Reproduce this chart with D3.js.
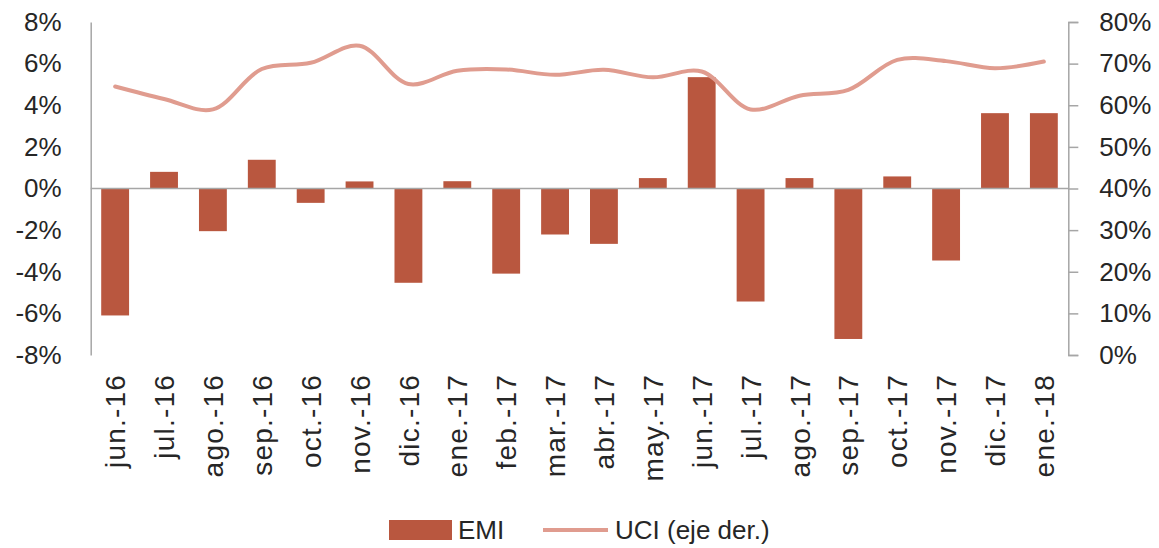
<!DOCTYPE html>
<html>
  <head>
    <meta charset="utf-8">
    <title></title>
  </head>
  <style>
    body{
      margin: 0;
      font-family: "Liberation Sans", Arial, sans-serif;
      background: #fff;
    }
    svg text {
      fill: #262626;
    }
  </style>
  <script src="https://cdn.jsdelivr.net/npm/d3@7"></script>
  <body>
    <script>
    // categorias (meses)
    var months = ["jun.-16","jul.-16","ago.-16","sep.-16","oct.-16","nov.-16","dic.-16",
                  "ene.-17","feb.-17","mar.-17","abr.-17","may.-17","jun.-17","jul.-17",
                  "ago.-17","sep.-17","oct.-17","nov.-17","dic.-17","ene.-18"]

    // EMI, variacion anual (%)
    var emi = [-6.1, 0.8, -2.05, 1.38, -0.69, 0.34, -4.53,
               0.35, -4.09, -2.21, -2.66, 0.5, 5.35, -5.43,
               0.5, -7.23, 0.58, -3.46, 3.62, 3.62]

    // UCI, eje derecho (%)
    var uci = [64.5, 61.5, 59.0, 68.7, 70.2, 74.3, 65.1,
               68.3, 68.6, 67.3, 68.5, 66.7, 68.1, 59.0,
               62.3, 63.7, 70.9, 70.6, 68.9, 70.5]

    var leftTicks  = [-8, -6, -4, -2, 0, 2, 4, 6, 8]
    var rightTicks = [0, 10, 20, 30, 40, 50, 60, 70, 80]

    var W = 1159, H = 548
    var padding = { left: 90.7, top: 22, right: 1159 - 1068.3, bottom: 548 - 355 }
    var width  = W - padding.left - padding.right
    var height = H - padding.top - padding.bottom

    var barColor  = "#b9573f"
    var lineColor = "#e09c8f"
    var axisColor = "#a6a6a6"

    var svg = d3.select("body")
                .append("svg")
                .attr("width", W)
                .attr("height", H)

    var g = svg.append("g")
               .attr("transform", "translate(" + padding.left + "," + padding.top + ")")

    // escalas
    var xScale = d3.scaleBand()
                   .domain(months)
                   .range([0, width])
                   .paddingInner(0.43)
                   .paddingOuter(0.215)

    var yLeft = d3.scaleLinear()
                  .domain([-8, 8])
                  .range([height, 0])

    var yRight = d3.scaleLinear()
                   .domain([0, 80])
                   .range([height, 0])

    // eje izquierdo
    var axisL = g.append("g")
      .call(d3.axisLeft(yLeft)
              .tickValues(leftTicks)
              .tickSize(0)
              .tickPadding(29)
              .tickFormat(function(d){ return d + "%" }))
    axisL.select(".domain").attr("stroke", axisColor).attr("stroke-width", 1.5)
    axisL.selectAll("text")
         .attr("font-size", "26px")
         .attr("font-family", "Liberation Sans, Arial, sans-serif")

    // eje derecho
    var axisR = g.append("g")
      .attr("transform", "translate(" + width + ",0)")
      .call(d3.axisRight(yRight)
              .tickValues(rightTicks)
              .tickSizeInner(10)
              .tickSizeOuter(10)
              .tickPadding(21)
              .tickFormat(function(d){ return d + "%" }))
    axisR.select(".domain").attr("stroke", axisColor).attr("stroke-width", 1.5)
    axisR.selectAll(".tick line").attr("stroke", axisColor).attr("stroke-width", 1.5)
    axisR.selectAll("text")
         .attr("font-size", "26px")
         .attr("font-family", "Liberation Sans, Arial, sans-serif")

    // barras EMI
    g.append("g").selectAll("rect")
      .data(emi)
      .enter()
      .append("rect")
      .attr("x", function(d, i){ return xScale(months[i]) })
      .attr("y", function(d){ return yLeft(Math.max(0, d)) })
      .attr("width", xScale.bandwidth())
      .attr("height", function(d){ return Math.abs(yLeft(d) - yLeft(0)) })
      .attr("fill", barColor)

    // linea del cero
    g.append("line")
      .attr("x1", 0)
      .attr("x2", width)
      .attr("y1", yLeft(0))
      .attr("y2", yLeft(0))
      .attr("stroke", axisColor)
      .attr("stroke-width", 1.5)

    // linea UCI suavizada
    var line = d3.line()
      .x(function(d, i){ return xScale(months[i]) + xScale.bandwidth() / 2 })
      .y(function(d){ return yRight(d) })
      .curve(d3.curveCatmullRom.alpha(0.5))

    g.append("path")
      .datum(uci)
      .attr("d", line)
      .attr("fill", "none")
      .attr("stroke", lineColor)
      .attr("stroke-width", 4)
      .attr("stroke-linecap", "round")

    // etiquetas eje x (verticales)
    g.append("g").selectAll("text")
      .data(months)
      .enter()
      .append("text")
      .attr("transform", function(d){
        var cx = xScale(d) + xScale.bandwidth() / 2
        return "translate(" + cx + "," + (height + 19) + ") rotate(-90)"
      })
      .attr("text-anchor", "end")
      .attr("dy", "0.36em")
      .attr("font-size", "28px")
      .attr("letter-spacing", "1.2px")
      .text(function(d){ return d })

    // leyenda
    var legend = svg.append("g").attr("transform", "translate(389,530)")
    legend.append("rect")
      .attr("x", 0).attr("y", -10)
      .attr("width", 63).attr("height", 20)
      .attr("fill", barColor)
    legend.append("text")
      .attr("x", 69).attr("dy", "0.36em")
      .attr("font-size", "26px")
      .text("EMI")
    legend.append("line")
      .attr("x1", 154).attr("x2", 219)
      .attr("y1", 0).attr("y2", 0)
      .attr("stroke", lineColor)
      .attr("stroke-width", 4)
    legend.append("text")
      .attr("x", 226).attr("dy", "0.36em")
      .attr("font-size", "26px")
      .text("UCI (eje der.)")
    </script>
  </body>
</html>
